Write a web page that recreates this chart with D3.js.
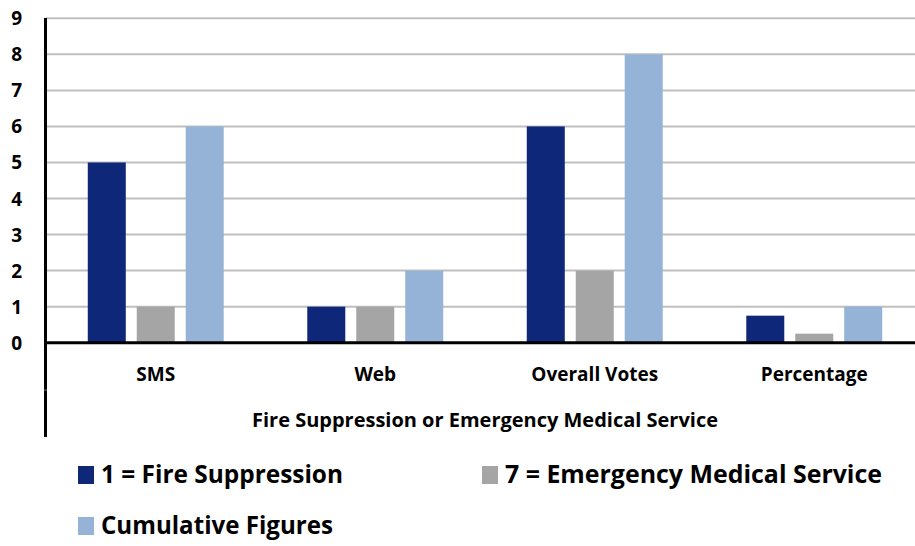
<!DOCTYPE html>
<html><head><meta charset="utf-8">
<script src="https://cdn.jsdelivr.net/npm/d3@7"></script>
<style>body{margin:0;background:#fff;} text{font-family:"Open Sans",Lato,sans-serif;font-weight:bold;fill:#000;}</style>
</head><body>
<svg id="c" width="915" height="546"></svg>
<script>
const categories = ["SMS", "Web", "Overall Votes", "Percentage"];
const seriesNames = ["1 = Fire Suppression", "7 = Emergency Medical Service", "Cumulative Figures"];
const fireSuppression = [5, 1, 6, 0.75];
const emergencyMedical = [1, 1, 2, 0.25];
const cumulative = [6, 2, 8, 1];
const yTicks = [0, 1, 2, 3, 4, 5, 6, 7, 8, 9];
const axisTitle = "Fire Suppression or Emergency Medical Service";
const colors = ["#0F2778", "#A5A5A5", "#95B3D7"];

const seriesValues = [fireSuppression, emergencyMedical, cumulative];
const data = categories.map((c, i) => ({cat: c, vals: seriesValues.map((s, j) => ({s: seriesNames[j], v: s[i], k: j}))}));

const svg = d3.select("#c");
const x0 = d3.scaleBand().domain(categories).range([46, 924]);
const x1 = d3.scaleBand().domain(seriesNames).range([0, x0.bandwidth()]).paddingInner(0.224).paddingOuter(0.853);
const y = d3.scaleLinear().domain([0, 9]).range([342.7, 18.3]);

// gridlines
svg.append("g").selectAll("line").data(yTicks.filter(d => d > 0)).join("line")
  .attr("x1", 46).attr("x2", 915).attr("y1", d => y(d)).attr("y2", d => y(d))
  .attr("stroke", "#BFBFBF").attr("stroke-width", 2);

// y tick labels
svg.append("g").selectAll("text").data(yTicks).join("text")
  .attr("x", 22).attr("y", d => y(d) + 7).attr("text-anchor", "end")
  .attr("font-size", 19).text(d => d);

// bars
const g = svg.append("g").selectAll("g").data(data).join("g")
  .attr("transform", d => `translate(${x0(d.cat)},0)`);
g.selectAll("rect").data(d => d.vals).join("rect")
  .attr("x", d => x1(d.s)).attr("width", x1.bandwidth())
  .attr("y", d => y(d.v)).attr("height", d => y(0) - y(d.v))
  .attr("fill", d => colors[d.k]);

// axes lines
svg.append("line").attr("x1", 45.5).attr("x2", 45.5).attr("y1", 18).attr("y2", 437)
  .attr("stroke", "#000").attr("stroke-width", 3);
svg.append("line").attr("x1", 44).attr("x2", 915).attr("y1", y(0)).attr("y2", y(0))
  .attr("stroke", "#000").attr("stroke-width", 3);
svg.append("line").attr("x1", 44).attr("x2", 47).attr("y1", 390).attr("y2", 390)
  .attr("stroke", "#777").attr("stroke-width", 1);

// category labels
svg.append("g").selectAll("text").data(categories).join("text")
  .attr("x", d => x0(d) + x0.bandwidth() / 2).attr("y", 381)
  .attr("text-anchor", "middle").attr("font-size", 19).text(d => d);

// axis title
svg.append("text").attr("x", 252).attr("y", 427).attr("font-size", 19)
  .attr("textLength", 466).attr("lengthAdjust", "spacingAndGlyphs").text(axisTitle);

// legend
const legendPos = [{x: 78, y: 466, tl: 242}, {x: 482, y: 466, tl: 377}, {x: 78, y: 517, tl: 232}];
const lg = svg.append("g").selectAll("g").data(seriesNames).join("g");
lg.append("rect").attr("x", (d, i) => legendPos[i].x).attr("y", (d, i) => legendPos[i].y)
  .attr("width", 16).attr("height", 18).attr("fill", (d, i) => colors[i]);
lg.append("text").attr("x", (d, i) => legendPos[i].x + 23).attr("y", (d, i) => legendPos[i].y + 17)
  .attr("font-size", 25).attr("textLength", (d, i) => legendPos[i].tl)
  .attr("lengthAdjust", "spacingAndGlyphs").text(d => d);
</script>
</body></html>
